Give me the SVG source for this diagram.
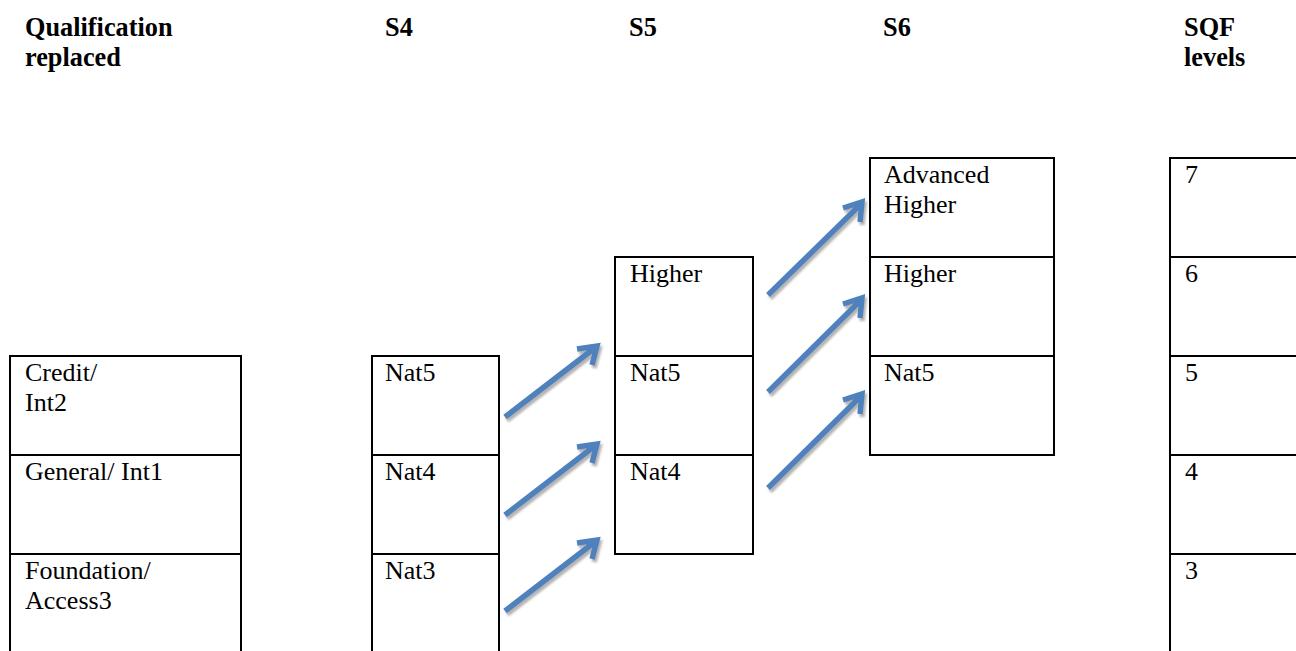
<svg xmlns="http://www.w3.org/2000/svg" width="1296" height="651" viewBox="0 0 1296 651">
<style>
  .hdr{font-family:"Liberation Serif","Times New Roman",serif;font-weight:bold;font-size:26.3px;fill:#000}
  .txt{font-family:"Liberation Serif","Times New Roman",serif;font-size:26px;fill:#000}
  .cell{fill:#fff;stroke:#000;stroke-width:2}
  .arr{fill:none;stroke:#4F81BD;stroke-width:5.5;stroke-linecap:butt;stroke-linejoin:miter}
</style>
<defs>
  <filter id="shadow" x="-20%" y="-20%" width="140%" height="140%">
    <feDropShadow dx="2" dy="3" stdDeviation="0.8" flood-color="#a6a6a6" flood-opacity="0.85"/>
  </filter>
</defs>
<rect width="1296" height="651" fill="#fff"/>

<g id="headers">
  <text class="hdr" x="25" y="36">Qualification</text>
  <text class="hdr" x="25" y="66">replaced</text>
  <text class="hdr" x="385" y="36">S4</text>
  <text class="hdr" x="629" y="36">S5</text>
  <text class="hdr" x="883" y="36">S6</text>
  <text class="hdr" x="1184" y="36">SQF</text>
  <text class="hdr" x="1184" y="66">levels</text>
</g>

<g id="col-qualification">
  <g id="q-credit"><rect class="cell" x="10" y="356" width="231" height="99"/><text class="txt" x="25" y="381">Credit/</text><text class="txt" x="25" y="411">Int2</text></g>
  <g id="q-general"><rect class="cell" x="10" y="455" width="231" height="99"/><text class="txt" x="25" y="480">General/ Int1</text></g>
  <g id="q-foundation"><rect class="cell" x="10" y="554" width="231" height="110"/><text class="txt" x="25" y="579">Foundation/</text><text class="txt" x="25" y="609">Access3</text></g>
</g>

<g id="col-s4">
  <g id="s4-nat5"><rect class="cell" x="372" y="356" width="127" height="99"/><text class="txt" x="385" y="381">Nat5</text></g>
  <g id="s4-nat4"><rect class="cell" x="372" y="455" width="127" height="99"/><text class="txt" x="385" y="480">Nat4</text></g>
  <g id="s4-nat3"><rect class="cell" x="372" y="554" width="127" height="110"/><text class="txt" x="385" y="579">Nat3</text></g>
</g>

<g id="col-s5">
  <g id="s5-higher"><rect class="cell" x="615" y="257" width="138" height="99"/><text class="txt" x="630" y="282">Higher</text></g>
  <g id="s5-nat5"><rect class="cell" x="615" y="356" width="138" height="99"/><text class="txt" x="630" y="381">Nat5</text></g>
  <g id="s5-nat4"><rect class="cell" x="615" y="455" width="138" height="99"/><text class="txt" x="630" y="480">Nat4</text></g>
</g>

<g id="col-s6">
  <g id="s6-advhigher"><rect class="cell" x="870" y="158" width="184" height="99"/><text class="txt" x="884" y="183">Advanced</text><text class="txt" x="884" y="213">Higher</text></g>
  <g id="s6-higher"><rect class="cell" x="870" y="257" width="184" height="99"/><text class="txt" x="884" y="282">Higher</text></g>
  <g id="s6-nat5"><rect class="cell" x="870" y="356" width="184" height="99"/><text class="txt" x="884" y="381">Nat5</text></g>
</g>

<g id="col-sqf">
  <g id="sqf-7"><rect class="cell" x="1170" y="158" width="140" height="99"/><text class="txt" x="1185" y="183">7</text></g>
  <g id="sqf-6"><rect class="cell" x="1170" y="257" width="140" height="99"/><text class="txt" x="1185" y="282">6</text></g>
  <g id="sqf-5"><rect class="cell" x="1170" y="356" width="140" height="99"/><text class="txt" x="1185" y="381">5</text></g>
  <g id="sqf-4"><rect class="cell" x="1170" y="455" width="140" height="99"/><text class="txt" x="1185" y="480">4</text></g>
  <g id="sqf-3"><rect class="cell" x="1170" y="554" width="140" height="110"/><text class="txt" x="1185" y="579">3</text></g>
</g>

<g id="connectors" filter="url(#shadow)">
  <path class="arr" d="M505,417 L596,347 M577,349 L597,346 L592,365"/>
  <path class="arr" d="M505,515 L596,445 M577,447 L597,444 L592,463"/>
  <path class="arr" d="M505,611 L596,541 M577,543 L597,540 L592,559"/>
  <path class="arr" d="M768,295 L861,204 M843,208 L862,202 L860,222"/>
  <path class="arr" d="M768,392 L861,300 M843,304 L862,298 L860,318"/>
  <path class="arr" d="M768,488 L861,396 M843,400 L862,394 L860,414"/>
</g>
</svg>
